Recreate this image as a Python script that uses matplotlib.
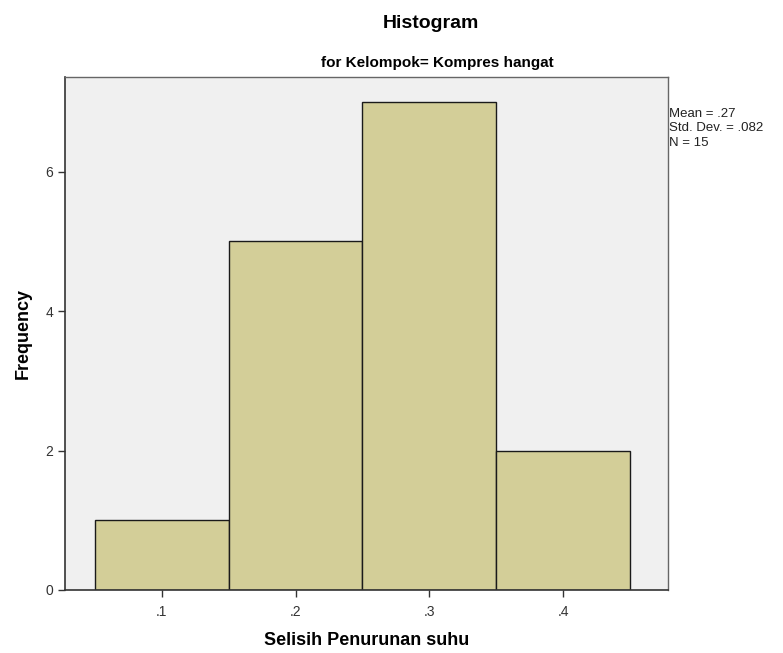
import matplotlib
matplotlib.use("Agg")
from matplotlib import pyplot as plt

plt.rcParams["font.family"] = ["Liberation Sans", "DejaVu Sans"]

# histogram bins (centres) and counts
bin_centers = [0.1, 0.2, 0.3, 0.4]
counts = [1, 5, 7, 2]
bin_width = 0.1
x_ticks = [0.1, 0.2, 0.3, 0.4]
x_tick_labels = [".1", ".2", ".3", ".4"]
y_ticks = [0, 2, 4, 6]
stats_text = "Mean = .27\nStd. Dev. = .082\nN = 15"

fig = plt.figure(figsize=(7.83, 6.53), dpi=100)
ax = fig.add_axes([0.083, 0.0965, 0.77, 0.786])
ax.set_facecolor("#f0f0f0")

ax.bar(bin_centers, counts, width=bin_width, color="#d3ce98",
       edgecolor="#1a1a1a", linewidth=1.0, zorder=2)

ax.set_xlim(0.0276, 0.4784)
ax.set_ylim(0, 7.36)
ax.set_xticks(x_ticks)
ax.set_xticklabels(x_tick_labels)
ax.set_yticks(y_ticks)
ax.tick_params(axis="both", direction="out", length=5, width=1,
               color="#333333", labelcolor="#333333", labelsize=10)
ax.tick_params(axis="x", pad=6)

for side in ["left", "bottom"]:
    ax.spines[side].set_color("#333333")
    ax.spines[side].set_linewidth(1.2)
for side in ["top", "right"]:
    ax.spines[side].set_color("#666666")
    ax.spines[side].set_linewidth(1.0)

ax.set_xlabel("Selisih Penurunan suhu", fontsize=13, fontweight="bold",
              labelpad=9)
ax.set_ylabel("Frequency", fontsize=13, fontweight="bold", labelpad=10)

fig.text(0.55, 0.964, "Histogram", ha="center", va="center",
         fontsize=14, fontweight="bold")
fig.text(0.558, 0.903, "for Kelompok= Kompres hangat", ha="center",
         va="center", fontsize=11, fontweight="bold")
fig.text(0.855, 0.835, stats_text, ha="left", va="top", fontsize=9.5,
         linespacing=1.3, color="#222222")

fig.savefig("out.png", dpi=100)
